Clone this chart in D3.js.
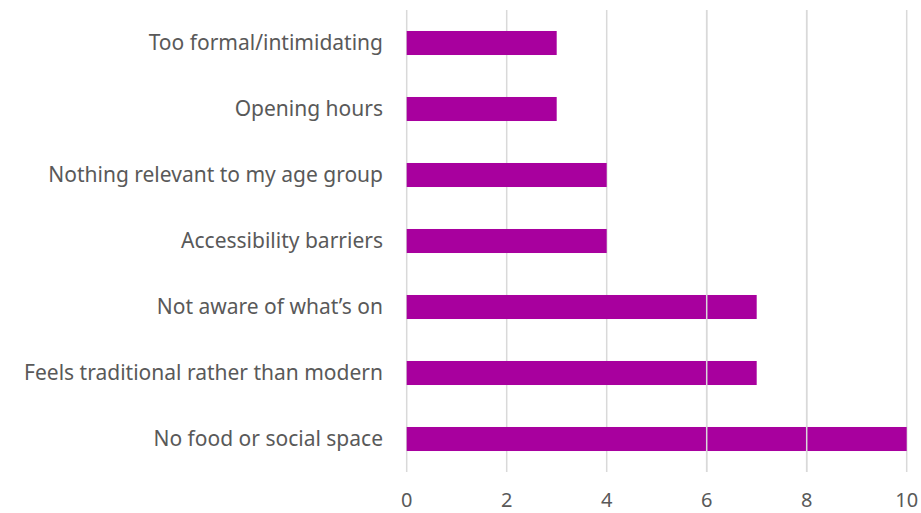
<!DOCTYPE html>
<html><head><meta charset="utf-8">
<script src="https://cdn.jsdelivr.net/npm/d3@7"></script>
<style>body{margin:0;background:#fff}svg{display:block}</style>
</head><body>
<svg id="c" width="921" height="513"></svg>
<script>
const categories = ["Too formal/intimidating","Opening hours","Nothing relevant to my age group","Accessibility barriers","Not aware of what\u2019s on","Feels traditional rather than modern","No food or social space"];
const values = [3,3,4,4,7,7,10];
const xTicks = [0,2,4,6,8,10];

const svg = d3.select("#c");
const font = "'Noto Sans', sans-serif";
const x = d3.scaleLinear().domain([0,10]).range([406.7,906.7]);
const y = d3.scaleBand().domain(categories).range([10,472]).paddingInner(0.636).paddingOuter(0.318);

svg.selectAll("line.grid").data(xTicks).join("line")
  .attr("class","grid")
  .attr("x1", d => x(d)).attr("x2", d => x(d))
  .attr("y1", 10).attr("y2", 472)
  .attr("stroke", "#d9d9d9").attr("stroke-width", 1.5);

svg.selectAll("rect.bar").data(categories).join("rect")
  .attr("class","bar")
  .attr("x", x(0))
  .attr("y", d => y(d))
  .attr("width", (d,i) => x(values[i]) - x(0))
  .attr("height", y.bandwidth())
  .attr("fill", "#A8009E");

// light grid lines visible through the longer bars, as in the reference
svg.selectAll("line.over").data(xTicks.filter(t => t >= 6 && t < 10)).join("line")
  .attr("class","over")
  .attr("x1", d => x(d)).attr("x2", d => x(d))
  .attr("y1", 10).attr("y2", 472)
  .attr("stroke", "#d9d9d9").attr("stroke-width", 1.5);

svg.selectAll("text.cat").data(categories).join("text")
  .attr("class","cat")
  .attr("x", 383)
  .attr("y", d => y(d) + y.bandwidth()/2)
  .attr("dy", "0.35em")
  .attr("text-anchor","end")
  .attr("font-family", font).attr("font-size", 21)
  .attr("fill", "#595959")
  .text(d => d);

svg.selectAll("text.tick").data(xTicks).join("text")
  .attr("class","tick")
  .attr("x", d => x(d))
  .attr("y", 507)
  .attr("text-anchor","middle")
  .attr("font-family", font).attr("font-size", 20)
  .attr("fill", "#595959")
  .text(d => d);
</script>
</body></html>
